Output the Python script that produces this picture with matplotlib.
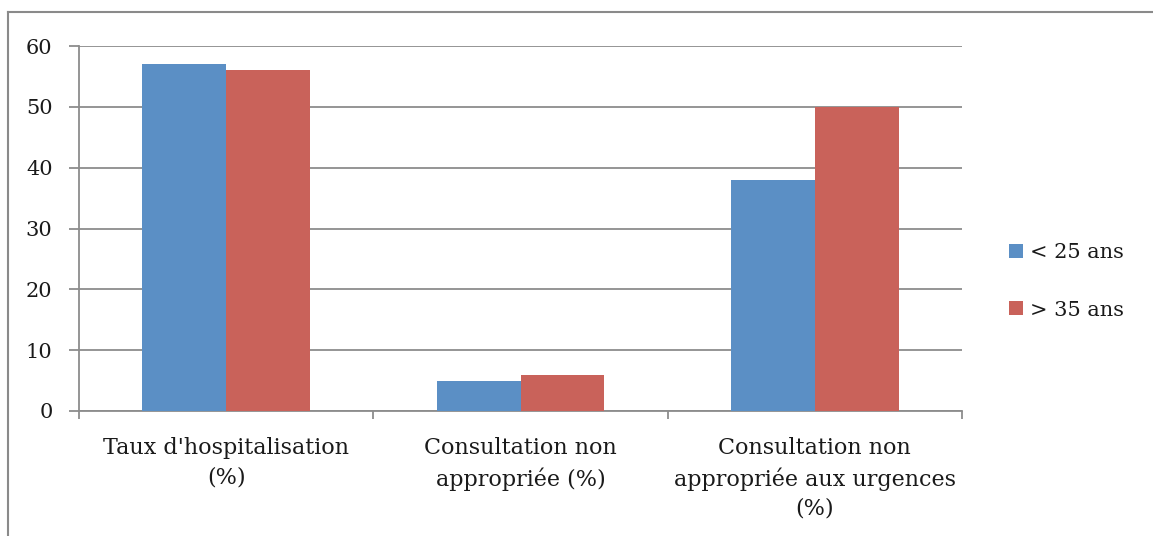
import matplotlib.pyplot as plt
import numpy as np
from matplotlib.lines import Line2D

categories = ["Taux d'hospitalisation\n(%)",
              "Consultation non\nappropriée (%)",
              "Consultation non\nappropriée aux urgences\n(%)"]
jeunes = [57, 5, 38]
ages = [56, 6, 50]
series_labels = ["< 25 ans", "> 35 ans"]

blue = "#5b8fc5"
red = "#c9625a"
grid_col = "#8c8c8c"
text_col = "#1a1a1a"

plt.rcParams['font.family'] = ['DejaVu Serif']

fig = plt.figure(figsize=(11.53, 5.36), dpi=100)
ax = fig.add_axes([79 / 1153, 1 - 411 / 536, (962 - 79) / 1153, (411 - 46) / 536])

# outer frame: only top and left edges are visible
fx = 7.5 / 1153
fy = 1 - 11.5 / 536
fig.lines.append(Line2D([fx, 1.0], [fy, fy], transform=fig.transFigure,
                        color="#8a8a8a", linewidth=1.5))
fig.lines.append(Line2D([fx, fx], [0.0, fy], transform=fig.transFigure,
                        color="#8a8a8a", linewidth=1.5))

x = np.arange(len(categories))
w = 0.285
ax.bar(x - w / 2, jeunes, w, color=blue, label=series_labels[0], zorder=3)
ax.bar(x + w / 2, ages, w, color=red, label=series_labels[1], zorder=3)

ax.set_xlim(-0.5, 2.5)
ax.set_ylim(0, 60)
ax.set_yticks(range(0, 61, 10))
ax.yaxis.grid(True, color=grid_col, linewidth=1.3, zorder=0)
ax.set_axisbelow(True)

for s in ["top", "right"]:
    ax.spines[s].set_visible(False)
for s in ["left", "bottom"]:
    ax.spines[s].set_color(grid_col)
    ax.spines[s].set_linewidth(1.3)

ax.set_xticks([-0.5, 0.5, 1.5, 2.5])
ax.set_xticklabels([])
ax.set_xticks(x, minor=True)
ax.set_xticklabels(categories, minor=True, fontsize=16, linespacing=1.42,
                   color=text_col)
ax.tick_params(axis="x", which="major", length=6, width=1.3, color=grid_col)
ax.tick_params(axis="x", which="minor", length=0, pad=19)
ax.tick_params(axis="y", length=7, width=1.3, color=grid_col, labelsize=15,
               pad=12, labelcolor=text_col)

leg = ax.legend(loc="center left", bbox_to_anchor=(1.032, 0.355), frameon=False,
                fontsize=15, handlelength=0.65, handleheight=0.65,
                handletextpad=0.35, labelspacing=1.85)
for t in leg.get_texts():
    t.set_color(text_col)

fig.savefig("out.png", dpi=100)
